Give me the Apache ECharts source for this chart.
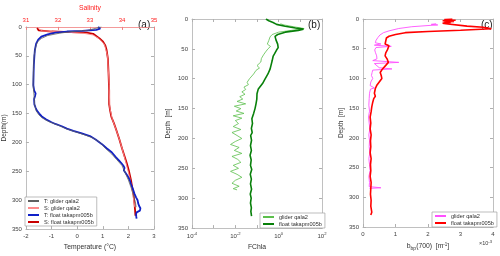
<!DOCTYPE html>
<html><head><meta charset="utf-8">
<script src="https://cdn.jsdelivr.net/npm/echarts@6/dist/echarts.min.js"></script>
<style>html,body{margin:0;padding:0;background:#fff}#c{width:500px;height:256px}</style>
</head><body><div id="c"></div>
<script>
// ---------- Panel (a): temperature (°C) and salinity ----------
const floatT_depth = [0,3,5,7,8,10,13,17,22,29,40,51,65,80,101,110,115,119,125,134,140,145,150,155,160,165,168,172,176,180,184,189,195,203,210,217,225,231,236,240,244,248,252,258,265,272,280,289,295,300,305,310,314,318,321,325,329,332];
const floatT = [0.82,0.9,0.75,0.2,-0.4,-0.85,-1.15,-1.4,-1.52,-1.6,-1.65,-1.67,-1.69,-1.7,-1.71,-1.68,-1.62,-1.64,-1.68,-1.67,-1.62,-1.57,-1.48,-1.38,-1.22,-1.0,-0.85,-0.6,-0.4,-0.15,0.15,0.5,0.72,0.97,1.15,1.35,1.5,1.63,1.73,1.8,1.85,1.82,1.88,1.97,2.05,2.1,2.17,2.24,2.3,2.36,2.38,2.42,2.47,2.45,2.32,2.3,2.31,2.32];
const gliderT_depth = [0,3,6,8,11,15,20,26,35,50,70,100,120,135,145,152,158,164,170,176,182,187,192,200,210,220,230,240,247,255,265,280,295,305,312];
const gliderT = [0.95,0.9,0.4,-0.2,-0.7,-1.15,-1.4,-1.55,-1.62,-1.68,-1.7,-1.72,-1.68,-1.66,-1.6,-1.5,-1.35,-1.1,-0.75,-0.45,-0.05,0.3,0.6,0.9,1.1,1.35,1.55,1.75,1.82,1.9,2.0,2.12,2.22,2.28,2.3];
const floatS_depth = [2,4,6,8,9,10,12,15,20,25,32,40,55,80,110,134,145,156,167,178,195,210,222,236,250,265,278,290,305,318,327];
const floatS = [31.35,31.3,31.4,31.8,32.4,32.9,33.1,33.16,33.3,33.4,33.48,33.52,33.56,33.58,33.6,33.6,33.63,33.67,33.75,33.82,33.92,34.0,34.07,34.15,34.22,34.28,34.32,34.36,34.39,34.41,34.42];
const gliderS_depth = [3,5,7,9,11,14,20,30,50,100,140,160,180,200,230,260,290,312];
const gliderS = [31.4,31.35,31.5,32.2,32.8,33.1,33.28,33.45,33.55,33.6,33.62,33.7,33.83,33.95,34.1,34.24,34.34,34.4];
const tempTicks = [-2,-1,0,1,2,3];
const salTicks = [31,32,33,34,35];

// ---------- Panel (b): FChla ----------
const floatChl_depth = [0,3,6,9,12,15,17,19,22,26,29,35,42,48,52,58,62,70,78,84,92,101,108,117,125,134,142,150,158,167,175,183,190,195,203,212,220,228,236,245,252,260,268,276,285,293,300,308,316,322,330];
const floatChl = [0.26,0.35,0.55,0.8,2.0,6,14,8,2,0.9,0.68,0.75,0.9,0.95,0.8,0.65,0.56,0.5,0.44,0.4,0.32,0.23,0.18,0.115,0.1,0.098,0.09,0.081,0.07,0.058,0.062,0.055,0.06,0.051,0.056,0.05,0.055,0.048,0.054,0.05,0.057,0.049,0.055,0.05,0.056,0.049,0.054,0.05,0.055,0.052,0.056];
const gliderChl_depth = [8,10,13,16,19,22,26,30,36,42,46,50,55,60,66,72,78,82,86,92,100,106,110,114,118,122,126,130,134,138,142,146,150,154,158,162,166,170,175,180,185,190,195,200,205,210,215,220,225,230,235,240,245,250,255,260,265,270,275,280,284,286];
const gliderChl = [1.2,1.8,5,15,4,1.0,0.5,0.4,0.35,0.3,0.42,0.32,0.25,0.2,0.16,0.15,0.1,0.13,0.09,0.07,0.045,0.035,0.04,0.025,0.03,0.02,0.028,0.016,0.022,0.012,0.03,0.009,0.018,0.011,0.025,0.008,0.02,0.01,0.014,0.008,0.018,0.007,0.012,0.02,0.01,0.006,0.015,0.009,0.02,0.007,0.013,0.018,0.008,0.014,0.006,0.012,0.02,0.01,0.007,0.015,0.008,0.012];

// ---------- Panel (c): bbp(700), units of 1e-3 m^-1 ----------
const floatBbp_depth = [0,1,2,3,4,5,6,7,8,10,12,14,16.5,19,21,23,26,29,32,37,42,45,48,52,57,62,67,73,78,84,90,95,100,106,112,117,125,130,134,140,148,156,165,175,185,195,205,215,225,235,245,255,265,275,285,295,305,315,325,330];
const floatBbp = [2.75,2.5,2.85,2.45,2.8,2.5,2.7,2.45,2.55,2.6,3.2,3.7,3.95,3.0,2.0,1.3,1.0,0.8,0.72,0.7,0.68,0.8,0.84,0.75,0.7,0.68,0.74,0.78,0.7,0.6,0.53,0.56,0.58,0.5,0.42,0.38,0.35,0.38,0.33,0.3,0.27,0.25,0.22,0.24,0.22,0.25,0.23,0.24,0.22,0.25,0.23,0.24,0.22,0.25,0.24,0.23,0.25,0.24,0.27,0.24];
const gliderBbp_depth = [8,9,10,11,13,16,20,23,27,31,36,40,42,44,46,48,52,56,62,67,70,73,75,78,82,84,86,90,95,100,106,112,116,118,125,134,145,155,165,175,185,195,205,215,225,235,245,255,265,275,282,284,285,286];
const gliderBbp = [2.25,2.1,2.3,2.0,1.5,1.1,0.8,0.63,0.52,0.46,0.4,0.38,0.55,0.35,0.87,0.4,0.36,0.38,0.42,0.43,0.3,1.1,0.35,0.3,0.5,0.89,0.3,0.28,0.26,0.3,0.24,0.22,0.35,0.23,0.2,0.19,0.18,0.2,0.17,0.19,0.21,0.18,0.2,0.19,0.21,0.18,0.2,0.22,0.18,0.2,0.19,0.55,0.2,0.19];
const bbpTicks = [0,1,2,3,4];
const depthTicks = [0,50,100,150,200,250,300,350];

const FONT = '"Liberation Sans", Arial, sans-serif';
const pairs = (vals, depths) => vals.map((v, i) => [v, depths[i]]);

const grids = [
  {left: 22, top: 19, width: 132, height: 211},
  {left: 192, top: 19, width: 130, height: 211},
  {left: 363, top: 19, width: 130, height: 211}
];
const AXC = '#b0b0b0';
const LAB = '#404040';
function yAxes(g, name, gap) {
  return [
    {type: 'value', gridIndex: g, min: depthTicks[0], max: depthTicks[depthTicks.length-1], interval: 50, inverse: true,
     position: 'left',
     name: name, nameLocation: 'middle', nameGap: gap, nameRotate: 90,
     nameTextStyle: {fontSize: 6.5, color: '#303030', fontFamily: FONT},
     axisLine: {show: true, onZero: false, lineStyle: {color: AXC, width: 0.8}},
     axisTick: {inside: true, length: 3, lineStyle: {color: AXC}},
     axisLabel: {fontSize: 6, color: LAB, margin: 4, fontFamily: FONT},
     splitLine: {show: false}},
    {type: 'value', gridIndex: g, position: 'right', min: depthTicks[0], max: depthTicks[depthTicks.length-1], interval: 50, inverse: true,
     axisLine: {show: true, onZero: false, lineStyle: {color: AXC, width: 0.8}},
     axisTick: {inside: true, length: 3, lineStyle: {color: AXC}},
     axisLabel: {show: false}, splitLine: {show: false}}
  ];
}
const supRich = {sup: {fontSize: 4.2, verticalAlign: 'bottom', padding: [0, 0, 4, 0], color: LAB, fontFamily: FONT},
                 b: {fontSize: 6, color: LAB, fontFamily: FONT}};
const xAxis = [
  {type: 'value', gridIndex: 0, min: tempTicks[0], max: tempTicks[tempTicks.length-1], interval: 1, position: 'bottom',
   name: 'Temperature (°C)', nameLocation: 'middle', nameGap: 13,
   nameTextStyle: {fontSize: 6.8, color: '#303030', fontFamily: FONT},
   axisLine: {show: true, onZero: false, lineStyle: {color: AXC, width: 0.8}},
   axisTick: {inside: true, length: 3, lineStyle: {color: AXC}},
   axisLabel: {fontSize: 6, color: LAB, margin: 4, fontFamily: FONT}, splitLine: {show: false}},
  {type: 'value', gridIndex: 0, min: salTicks[0], max: salTicks[salTicks.length-1], interval: 1, position: 'top',
   name: 'Salinity', nameLocation: 'middle', nameGap: 13,
   nameTextStyle: {fontSize: 6.8, color: '#ff2020', fontFamily: FONT},
   axisLine: {show: true, onZero: false, lineStyle: {color: '#f08080', width: 0.8}},
   axisTick: {inside: true, length: 3, lineStyle: {color: '#f08080'}},
   axisLabel: {fontSize: 6, color: '#ff2020', margin: 4, fontFamily: FONT}, splitLine: {show: false}},
  {type: 'log', gridIndex: 1, min: 1e-4, max: 1e2, logBase: 10, position: 'bottom',
   name: 'FChla', nameLocation: 'middle', nameGap: 14,
   nameTextStyle: {fontSize: 6.8, color: '#303030', fontFamily: FONT},
   axisLine: {show: true, onZero: false, lineStyle: {color: AXC, width: 0.8}},
   axisTick: {inside: true, length: 3, lineStyle: {color: AXC}},
   axisLabel: {margin: 4, rich: supRich, formatter: v => {
     const e = Math.round(Math.log10(v));
     return (e % 2 === 0) ? '{b|10}{sup|' + e + '}' : '';
   }}, splitLine: {show: false}},
  {type: 'log', gridIndex: 1, min: 1e-4, max: 1e2, logBase: 10, position: 'top',
   axisLine: {show: true, onZero: false, lineStyle: {color: AXC, width: 0.8}},
   axisTick: {inside: true, length: 3, lineStyle: {color: AXC}},
   axisLabel: {show: false}, splitLine: {show: false}},
  {type: 'value', gridIndex: 2, min: bbpTicks[0], max: bbpTicks[bbpTicks.length-1], interval: 1, position: 'bottom',
   name: 'b{s|bp}(700)  [m{p|-1}]', nameLocation: 'middle', nameGap: 14,
   nameTextStyle: {fontSize: 6.8, color: '#303030', fontFamily: FONT,
     rich: {s: {fontSize: 5, verticalAlign: 'top', padding: [5, 0, 0, 0], color: '#303030', fontFamily: FONT},
            p: {fontSize: 4.5, verticalAlign: 'bottom', padding: [0, 0, 4, 0], color: '#303030', fontFamily: FONT}}},
   axisLine: {show: true, onZero: false, lineStyle: {color: AXC, width: 0.8}},
   axisTick: {inside: true, length: 3, lineStyle: {color: AXC}},
   axisLabel: {fontSize: 6, color: LAB, margin: 4, fontFamily: FONT}, splitLine: {show: false}},
  {type: 'value', gridIndex: 2, min: bbpTicks[0], max: bbpTicks[bbpTicks.length-1], interval: 1, position: 'top',
   axisLine: {show: true, onZero: false, lineStyle: {color: AXC, width: 0.8}},
   axisTick: {inside: true, length: 3, lineStyle: {color: AXC}},
   axisLabel: {show: false}, splitLine: {show: false}}
];
const yAxis = [].concat(yAxes(0, 'Depth(m)', 12), yAxes(1, 'Depth  [m]', 20), yAxes(2, 'Depth  [m]', 16));

function line(name, data, xi, yi, color, width, z) {
  return {type: 'line', name: name, xAxisIndex: xi, yAxisIndex: yi, data: data,
    showSymbol: false, symbol: 'none', silent: true, animation: false, z: z,
    lineStyle: {color: color, width: width}, itemStyle: {color: color}};
}
const series = [
  line('S: float takapm005b', pairs(floatS, floatS_depth), 1, 0, '#c80000', 1.8, 2),
  line('S: glider qala2', pairs(gliderS, gliderS_depth), 1, 0, '#ff8a8a', 0.9, 3),
  line('T: float takapm005b', pairs(floatT, floatT_depth), 0, 0, '#1020c8', 1.8, 4),
  line('T: glider qala2', pairs(gliderT, gliderT_depth), 0, 0, '#606060', 0.8, 5),
  line('glider qala2', pairs(gliderChl, gliderChl_depth), 2, 2, '#5cbf4c', 0.8, 3),
  line('float takapm005b', pairs(floatChl, floatChl_depth), 2, 2, '#08800a', 1.6, 4),
  line('glider qala2\u200b', pairs(gliderBbp, gliderBbp_depth), 4, 4, '#ff50ff', 0.9, 3),
  line('float takapm005b\u200b', pairs(floatBbp, floatBbp_depth), 4, 4, '#ff0000', 1.6, 4)
];
function legend(data, left, top) {
  return {data: data, left: left, top: top, orient: 'vertical', itemWidth: 11, itemHeight: 6,
    itemGap: 1, padding: [1, 3, 1, 2], borderColor: '#a0a0a0', borderWidth: 0.7, backgroundColor: '#fff',
    selectedMode: false, z: 10,
    itemStyle: {opacity: 0, borderWidth: 0},
    textStyle: {fontSize: 5.6, color: '#303030', fontFamily: FONT}};
}
const option = {
  animation: false,
  backgroundColor: '#fff',
  grid: grids,
  xAxis: xAxis,
  yAxis: yAxis,
  legend: [
    legend(['T: glider qala2','S: glider qala2','T: float takapm005b','S: float takapm005b'], 25, 197),
    legend(['glider qala2','float takapm005b'], 260, 213),
    legend(['glider qala2\u200b', 'float takapm005b\u200b'], 432, 212)
  ],
  graphic: [
    {type: 'text', left: 138, top: 20, style: {text: '(a)', fontSize: 10, fill: '#202020', fontFamily: FONT}},
    {type: 'text', left: 308, top: 20, style: {text: '(b)', fontSize: 10, fill: '#202020', fontFamily: FONT}},
    {type: 'text', left: 481, top: 20, style: {text: '(c)', fontSize: 10, fill: '#202020', fontFamily: FONT}},
    {type: 'text', left: 479, top: 240, style: {text: '×10{p|-3}', fontSize: 5.5, fill: '#404040', fontFamily: FONT,
      rich: {p: {fontSize: 4.2, verticalAlign: 'bottom', padding: [0, 0, 3, 0], fill: '#404040'}}}}
  ],
  series: series
};
const chart = echarts.init(document.getElementById('c'), null, {renderer: 'canvas'});
chart.setOption(option);
</script>
</body></html>
